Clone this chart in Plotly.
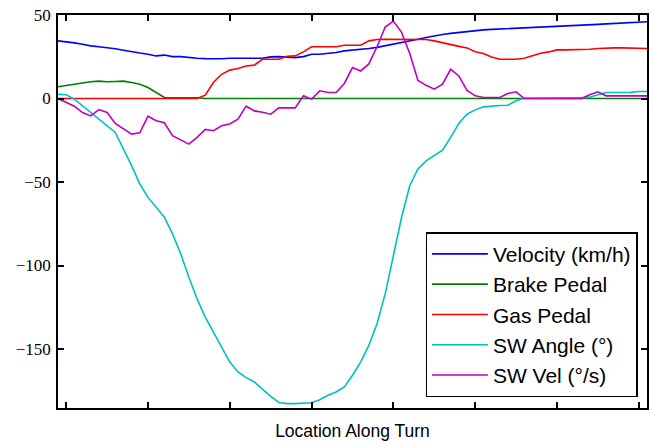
import plotly.graph_objects as go

x_index = list(range(73))

velocity = [34.5, 34.0, 33.3, 32.5, 31.5, 31.0, 30.5, 29.8, 28.9, 27.9,
            27.2, 26.5, 25.5, 26.0, 25.1, 25.1, 24.5, 24.1, 23.9, 23.7,
            23.8, 24.1, 24.1, 24.1, 24.1, 24.1, 24.9, 25.1, 24.8, 24.5,
            25.1, 26.5, 26.5, 26.9, 27.5, 28.5, 28.9, 29.3, 29.9, 30.6,
            31.5, 32.5, 33.5, 34.5, 35.5, 36.5, 37.5, 38.3, 39.0, 39.6,
            40.3, 40.8, 41.1, 41.4, 41.6, 41.8, 42.0, 42.2, 42.4, 42.6,
            42.8, 43.0, 43.3, 43.5, 43.8, 44.1, 44.4, 44.7, 45.0, 45.3,
            45.5, 45.8, 46.0]

brake = [7.0, 7.8, 8.6, 9.0, 10.0, 10.4, 10.0, 10.2, 10.4, 9.6,
         8.6, 6.6, 3.6, 0.6, 0.5, 0.5, 0.5, 0.5, 0, 0,
         0, 0, 0, 0, 0, 0, 0, 0, 0, 0,
         0, 0, 0, 0, 0, 0, 0, 0, 0, 0,
         0, 0, 0, 0, 0, 0, 0, 0, 0, 0,
         0, 0, 0, 0, 0, 0, 0, 0, 0, 0,
         0, 0, 0, 0, 0, 0, 0, 0, 0, 0,
         0, 0, 0]

gas = [0, 0, 0, 0, 0, 0, 0, 0, 0, 0,
       0, 0, 0, 0, 0, 0, 0, 0, 2.0, 9.6,
       14.5, 17.0, 18.0, 19.5, 20.0, 23.5, 23.5, 23.5, 25.3, 25.5,
       27.9, 31.0, 31.0, 31.0, 31.0, 31.9, 31.9, 31.9, 34.5, 35.3,
       35.5, 35.5, 35.5, 35.5, 35.5, 35.3, 34.5, 33.3, 32.2, 31.2,
       30.3, 28.0, 27.0, 24.8, 23.5, 23.5, 23.5, 24.1, 25.5, 27.1,
       27.9, 29.1, 29.1, 29.1, 29.1, 29.5, 29.9, 30.3, 30.3, 30.3,
       30.3, 29.9, 29.9]

sw_angle = [2.5, 2.3, -0.4, -4.4, -8.4, -12.4, -16.3, -20.3, -30.3, -40.2,
            -51.2, -59.2, -65.1, -71.1, -81.0, -93.0, -107.0, -120.0, -130.9, -139.8,
            -148.8, -157.8, -163.7, -167.1, -169.7, -174.3, -178.3, -182.0, -182.7, -182.7,
            -182.5, -182.2, -180.3, -177.7, -175.7, -172.7, -165.7, -157.8, -147.8, -134.9,
            -117.0, -95.0, -71.1, -52.2, -42.2, -37.3, -34.3, -30.9, -23.3, -14.9,
            -9.4, -6.8, -5.0, -4.4, -4.2, -4.0, -1.4, 0.2, 0.3, 0.3,
            0.3, 0.3, 0.4, 0.4, 0.4, 0.8, 2.3, 3.6, 3.6, 3.6,
            3.7, 4.2, 4.2]

sw_vel = [0, -2.2, -4.6, -8.4, -10.4, -6.6, -8.4, -14.9, -18.3, -21.3,
          -20.5, -10.6, -13.3, -14.5, -22.3, -24.9, -27.3, -23.3, -18.5, -19.3,
          -16.3, -15.3, -12.4, -4.6, -7.4, -8.2, -9.4, -5.6, -5.6, -5.6,
          1.6, -0.4, 4.6, 3.6, 3.6, 9.0, 18.5, 16.5, 20.7, 31.0,
          42.8, 46.4, 39.6, 27.0, 10.8, 7.9, 5.6, 8.6, 17.5, 13.5,
          4.8, 1.6, 0.6, 0.6, 0.6, 3.0, 4.0, 0, 0, 0,
          0, 0, 0, 0, 0, 2.2, 4.0, 1.6, 1.6, 1.6,
          1.6, 1.6, 1.6]

series_names = ["Velocity (km/h)", "Brake Pedal", "Gas Pedal", "SW Angle (°)", "SW Vel (°/s)"]
series_colors = ["#0000ff", "#008000", "#ff0000", "#00bfbf", "#bf00bf"]
series_values = [velocity, brake, gas, sw_angle, sw_vel]

x_tickvals = [1, 11, 21, 31, 41, 51, 61, 71]
y_tickvals = [-150, -100, -50, 0, 50]
y_ticktext = ["\u2212150", "\u2212100", "\u221250", "0", "50"]

fig = go.Figure()
for name, color, vals in zip(series_names, series_colors, series_values):
    fig.add_trace(go.Scatter(x=x_index, y=vals, mode="lines", name=name,
                             line=dict(color=color, width=1.6)))

fig.update_layout(
    width=652, height=442,
    margin=dict(l=58, r=5, t=15, b=34, autoexpand=False),
    paper_bgcolor="white", plot_bgcolor="white",
    showlegend=True,
    legend=dict(
        x=0.984, xanchor="right", y=0.027, yanchor="bottom",
        bgcolor="white", bordercolor="black", borderwidth=1.3,
        font=dict(family="Liberation Sans, Arial, sans-serif", size=21, color="black"),
        itemwidth=56,
    ),
)
fig.update_xaxes(
    range=[0, 72], showgrid=False, zeroline=False, automargin=False,
    showline=True, linecolor="black", linewidth=1.5, mirror="ticks",
    ticks="inside", ticklen=6, tickwidth=1.5, tickcolor="black",
    tickvals=x_tickvals, showticklabels=False,
    title=dict(text="Location Along Turn", standoff=16,
               font=dict(family="Liberation Sans, Arial, sans-serif", size=17.5, color="black")),
)
fig.update_yaxes(
    range=[-185.3, 50], showgrid=False, zeroline=False, automargin=False,
    showline=True, linecolor="black", linewidth=1.5, mirror="ticks",
    ticks="inside", ticklen=6, tickwidth=1.5, tickcolor="black",
    tickvals=y_tickvals, ticktext=y_ticktext,
    tickfont=dict(family="Liberation Serif, serif", size=17, color="black"),
    ticklabelstandoff=2,
)

fig.write_html("out.html", config={"displayModeBar": False},
               post_script="document.body.style.margin='0';")
